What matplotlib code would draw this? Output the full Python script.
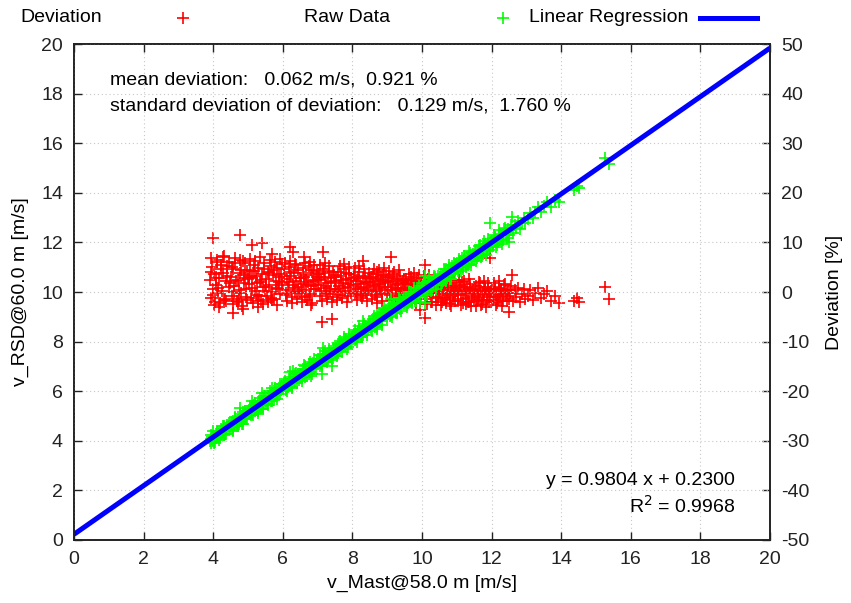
import numpy as np
import matplotlib
matplotlib.use("Agg")
import matplotlib.pyplot as plt
from matplotlib.lines import Line2D

plt.rcParams['font.family'] = ['Liberation Sans', 'DejaVu Sans']
plt.rcParams['axes.unicode_minus'] = False

# wind speed at the mast (m/s)
v_mast = [
    3.91, 3.94, 3.96, 3.99, 4.02, 4.05, 4.08, 4.11, 4.15, 4.18, 4.21, 4.25, 4.29, 4.33, 4.37, 4.41, 4.46,
    4.51, 4.54, 4.58, 4.61, 4.64, 4.68, 4.71, 4.74, 4.78, 4.81, 4.85, 4.88, 4.92, 4.95, 4.98,
    5.02, 5.05, 5.09, 5.12, 5.16, 5.19, 5.23, 5.26, 5.30, 5.33, 5.37, 5.40, 5.44, 5.47,
    5.51, 5.54, 5.58, 5.61, 5.65, 5.68, 5.72, 5.75, 5.79, 5.82, 5.86, 5.89, 5.93, 5.97,
    6.01, 6.04, 6.08, 6.11, 6.15, 6.18, 6.22, 6.25, 6.29, 6.32, 6.36, 6.39, 6.43, 6.47,
    6.51, 6.54, 6.58, 6.61, 6.65, 6.68, 6.72, 6.75, 6.79, 6.82, 6.86, 6.89, 6.93, 6.97,
    7.01, 7.04, 7.08, 7.11, 7.15, 7.18, 7.22, 7.25, 7.29, 7.32, 7.36, 7.39, 7.43, 7.47,
    7.51, 7.54, 7.58, 7.61, 7.65, 7.68, 7.72, 7.75, 7.79, 7.82, 7.86, 7.89, 7.93, 7.97,
    8.01, 8.04, 8.08, 8.11, 8.15, 8.18, 8.22, 8.25, 8.29, 8.32, 8.36, 8.39, 8.43, 8.47,
    8.51, 8.54, 8.58, 8.61, 8.65, 8.68, 8.72, 8.75, 8.79, 8.82, 8.86, 8.89, 8.93, 8.97,
    9.01, 9.04, 9.08, 9.11, 9.15, 9.18, 9.22, 9.25, 9.29, 9.32, 9.36, 9.39, 9.43, 9.47,
    9.51, 9.54, 9.58, 9.61, 9.65, 9.68, 9.72, 9.75, 9.79, 9.82, 9.86, 9.89, 9.93, 9.97,
    10.01, 10.04, 10.08, 10.11, 10.15, 10.18, 10.22, 10.25, 10.29, 10.32, 10.36, 10.39, 10.43, 10.47,
    10.51, 10.54, 10.58, 10.61, 10.65, 10.68, 10.72, 10.75, 10.79, 10.82, 10.86, 10.89, 10.93, 10.97,
    11.01, 11.04, 11.08, 11.11, 11.15, 11.18, 11.22, 11.25, 11.29, 11.32, 11.36, 11.39, 11.43, 11.47,
    11.51, 11.54, 11.58, 11.61, 11.65, 11.68, 11.72, 11.75, 11.79, 11.82, 11.86, 11.89, 11.93, 11.97,
    12.02, 12.05, 12.09, 12.12, 12.16, 12.20, 12.24, 12.28, 12.32, 12.36, 12.41, 12.45, 12.49,
    12.53, 12.57, 12.62, 12.66, 12.71, 12.76, 12.81, 12.86, 12.92, 12.97,
    13.04, 13.11, 13.18, 13.26, 13.34, 13.42, 13.51, 13.60, 13.70, 13.82, 13.95,
    14.38, 14.44, 14.50, 15.27, 15.38,
    3.98, 4.17, 4.57, 4.77, 4.86, 5.10, 5.40, 6.20, 6.30, 7.13, 7.16, 7.41, 9.10, 9.94,
    10.09, 10.10, 11.95, 12.50, 12.60,
    4.30, 5.70, 6.60, 8.30, 5.30, 6.80, 8.70,
    3.93, 4.00, 4.07, 4.14, 4.23, 4.31, 4.39, 4.48,
    4.53, 4.60, 4.66, 4.73, 4.80, 4.87, 4.93, 4.99,
    5.04, 5.11, 5.18, 5.25, 5.31, 5.38, 5.45, 5.49,
    5.53, 5.60, 5.67, 5.74, 5.81, 5.88, 5.94, 5.99,
    6.03, 6.10, 6.17, 6.24, 6.31, 6.38, 6.45, 6.49,
    6.53, 6.60, 6.67, 6.74, 6.81, 6.88, 6.95, 6.99,
    7.03, 7.10, 7.17, 7.24, 7.31, 7.38, 7.45, 7.49,
    7.53, 7.60, 7.67, 7.74, 7.81, 7.88, 7.95, 7.99,
    8.03, 8.10, 8.17, 8.24, 8.31, 8.38, 8.45, 8.49,
    8.53, 8.60, 8.67, 8.74, 8.81, 8.88, 8.95, 8.99,
    9.03, 9.10, 9.17, 9.24, 9.31, 9.38, 9.45, 9.49,
    9.53, 9.60, 9.67, 9.74, 9.81, 9.88, 9.95, 9.99,
    10.03, 10.10, 10.17, 10.24, 10.31, 10.38, 10.45, 10.49,
    10.53, 10.60, 10.67, 10.74, 10.81, 10.88, 10.95, 10.99,
    11.03, 11.10, 11.17, 11.24, 11.31, 11.38, 11.45, 11.49,
    11.53, 11.60, 11.67, 11.74, 11.81, 11.88, 11.95, 11.99,
    12.03, 12.10, 12.18, 12.26, 12.34, 12.43, 12.47,
    3.95, 4.03, 4.12, 4.20, 4.28, 4.36, 4.44,
    4.56, 4.63, 4.70, 4.76, 4.83, 4.90, 4.97,
    5.07, 5.14, 5.21, 5.28, 5.35, 5.42,
    5.56, 5.63, 5.70, 5.77, 5.84, 5.91,
    6.06, 6.13, 6.20, 6.27, 6.34, 6.41,
    6.56, 6.63, 6.70, 6.77, 6.84, 6.91,
    7.06, 7.13, 7.20, 7.27, 7.34, 7.41,
    7.56, 7.63, 7.70, 7.77, 7.84, 7.91,
    8.06, 8.13, 8.20, 8.27, 8.34, 8.41,
    8.56, 8.63, 8.70, 8.77, 8.84, 8.91,
    9.06, 9.13, 9.20, 9.27, 9.34, 9.41,
    9.56, 9.63, 9.70, 9.77, 9.84, 9.91,
    10.06, 10.13, 10.20, 10.27, 10.34, 10.41,
    10.56, 10.63, 10.70, 10.77, 10.84, 10.91,
    11.06, 11.13, 11.20, 11.27, 11.34, 11.41,
    11.56, 11.63, 11.70, 11.77, 11.84, 11.91,
    12.07, 12.14, 12.22, 12.30, 12.38,
]

# deviation RSD vs. mast (%)
deviation = [
    2.4, -1.2, 5.1, 0.7, 3.6, -2.0, 1.5, 6.1, -0.3, 2.9, 4.7, 0.2, 3.8, -1.4, 2.2, 5.3, 1.1,
    3.1, -0.8, 4.6, 1.3, 5.8, -1.9, 2.5, 0.4, 3.9, -0.2, 6.3, 1.8, 2.9, -1.0, 4.2,
    1.6, 4.4, -1.3, 2.8, 5.5, 0.3, 3.3, -0.6, 4.9, 2.0, -1.7, 3.7, 1.1, 5.9,
    2.6, -0.9, 4.1, 1.4, 5.2, 0.0, 3.4, -1.5, 2.2, 4.8, 0.8, 3.0, -0.4, 5.6,
    1.9, 4.6, -0.7, 2.7, 0.5, 5.0, 3.2, -1.1, 1.4, 3.9, 0.1, 2.3, 4.4, -0.3,
    2.8, 0.4, 4.9, 1.7, -1.0, 3.5, 2.1, 5.3, -0.5, 1.2, 3.8, 0.7, 2.5, 4.3,
    1.5, 3.6, -0.8, 2.4, 4.7, 0.9, 3.1, -0.2, 1.8, 4.2, 0.3, 2.9, -1.1, 3.4,
    2.2, 0.6, 4.0, 1.3, -0.6, 3.3, 1.9, 4.6, 0.2, 2.6, -0.9, 3.7, 1.0, 2.8,
    1.4, 3.5, -0.4, 2.3, 0.6, 4.1, 1.7, -0.9, 2.9, 0.9, 3.2, -0.2, 1.9, 3.8,
    2.0, 0.3, 3.7, 1.2, -0.7, 2.6, 4.0, 0.8, 1.6, 3.1, -0.5, 2.4, 1.0, 3.4,
    1.1, 3.0, -0.6, 2.2, 0.4, 3.6, 1.5, -1.0, 2.7, 0.7, 3.3, 0.0, 1.8, 2.5,
    0.8, 2.6, -1.1, 1.7, -0.2, 3.1, 0.5, 2.2, -1.4, 1.3, 2.9, -0.5, 1.0, 2.0,
    0.3, 2.1, -1.5, 1.2, -0.6, 2.7, 0.0, 1.6, -2.0, 0.9, 2.4, -1.0, 0.6, 1.8,
    -0.3, 1.6, -2.1, 0.8, -1.2, 2.2, -0.6, 1.1, -2.4, 0.4, 1.9, -1.5, 0.1, 1.3,
    0.2, -1.8, 1.5, -0.7, 2.0, -2.3, 0.6, -1.2, 1.1, -0.2, -2.0, 1.7, -0.9, 0.4,
    -0.4, 1.3, -1.9, 0.5, -1.0, 1.8, -2.4, 0.1, -0.7, 1.0, -1.6, 0.7, -2.1, -0.1,
    0.4, -1.7, 1.1, -0.6, -2.2, 0.9, -1.1, 0.2, -1.9, 1.4, -0.8, -0.2, -1.4,
    -0.3, 1.2, -1.8, 0.4, -1.1, 0.9, -2.0, -0.5, 0.6, -1.4,
    -0.8, 0.5, -1.6, -0.2, 0.8, -1.3, -0.4, 0.3, -1.9, -0.9, -2.2,
    -1.8, -1.2, -2.0, 1.0, -1.4,
    10.9, -3.0, -4.2, 11.5, -3.4, 9.5, 9.9, 9.1, 8.0, -6.0, 8.0, -5.4, 7.0, -3.6,
    5.4, -5.3, 6.9, -4.0, 3.4,
    7.2, 7.6, 7.0, 6.2, -3.1, -2.6, -2.3,
    4.0, -0.6, 2.9, 0.9, 5.5, -1.7, 3.2, 1.9,
    5.0, 0.1, 2.2, -1.4, 4.4, 3.4, 0.6, 2.7,
    3.0, 0.8, 4.3, 1.9, -0.9, 2.5, 4.7, 0.2,
    1.0, 3.8, -1.2, 4.5, 0.6, 2.0, 3.6, 1.5,
    3.3, -0.2, 2.0, 4.0, 0.9, 5.4, 1.1, 2.9,
    0.0, 3.1, 1.4, -0.8, 4.4, 2.2, 0.6, 3.0,
    2.7, 0.2, 3.9, 1.2, -0.4, 2.0, 4.1, 0.7,
    3.0, -0.1, 2.4, 0.9, 3.9, 1.6, -0.3, 2.5,
    2.6, 0.1, 3.0, 1.1, -0.6, 2.1, 0.4, 2.8,
    3.0, 1.5, -0.1, 2.2, 0.5, 3.5, 1.8, -0.3,
    2.0, -0.2, 2.9, 0.9, 1.6, -0.8, 2.3, 0.5,
    1.9, -0.3, 2.4, 0.2, 1.5, -0.9, 0.7, 2.3,
    1.4, -0.9, 0.8, 2.0, -0.3, 1.1, -1.3, 0.2,
    0.6, -1.6, 1.4, -0.2, -1.0, 0.9, -1.8, 0.3,
    -0.5, 1.0, -1.4, 0.3, -2.1, 0.8, -0.3, -1.6,
    0.6, -1.3, 0.2, -1.7, 0.9, -0.5, -1.1, 0.3,
    -0.9, 0.6, -1.5, 0.7, -0.4, -1.9, 0.5,
    6.8, -2.6, 6.4, -2.2, 7.0, -1.9, 6.1,
    -2.4, 6.9, -2.0, 6.5, -2.8, 5.9, -1.6,
    6.6, -2.3, 6.2, -1.8, 7.1, -2.5,
    -2.1, 6.4, -1.7, 6.0, -2.6, 6.7,
    5.9, -1.9, 6.3, -2.2, 5.6, -1.5,
    -2.0, 5.8, -1.6, 6.1, -2.3, 5.5,
    5.4, -1.8, 5.9, -1.4, 5.2, -2.1,
    -1.7, 5.3, -1.3, 5.6, -2.0, 5.0,
    4.9, -1.6, 5.2, -1.2, 4.6, -1.9,
    -1.5, 4.7, -1.1, 4.4, -1.8, 4.9,
    4.3, -1.6, 4.0, -1.3, 4.5, -1.9,
    -1.9, 3.7, -1.6, 3.9, -2.2, 3.4,
    3.2, -2.4, 3.5, -2.1, 2.9, -2.6,
    -2.6, 2.7, -2.3, 3.0, -2.8, 2.5,
    2.5, -2.7, 2.2, -2.5, 2.6, -2.9,
    -2.8, 2.1, -2.6, 2.3, -3.0, 1.9,
    1.9, -2.7, 2.2, -2.9, 1.7,
]

# regression shown in the chart
slope = 0.9804
intercept = 0.2300
r_squared = 0.9968
mean_dev = (0.062, 0.921)
std_dev = (0.129, 1.760)

v_mast = np.array(v_mast)
deviation = np.array(deviation)
v_rsd = v_mast * (1 + deviation / 100.0)

FS = 14
MS = 9
MEW = 1.2

fig = plt.figure(figsize=(8.51, 6.03), dpi=100)
ax = fig.add_axes([0.0870, 0.1045, 0.8178, 0.8225])
ax2 = ax.twinx()
ax.set_zorder(ax2.get_zorder() + 1)
ax.patch.set_visible(False)

ax2.plot(v_mast, deviation, '+', color='#ff0000', ms=MS, mew=MEW, ls='none')
ax.plot(v_mast, v_rsd, '+', color='#00ff00', ms=MS, mew=MEW, ls='none')
xl = np.array([0, 20])
ax.plot(xl, slope * xl + intercept, color='#0000ff', lw=3.6, solid_capstyle='butt')

ax.set_xlim(0, 20)
ax.set_ylim(0, 20)
ax2.set_ylim(-50, 50)
ax.set_xticks(np.arange(0, 21, 2))
ax.set_yticks(np.arange(0, 21, 2))
ax2.set_yticks(np.arange(-50, 51, 10))

ax.grid(True, color='#c8c8c8', lw=0.8, ls=(0, (1, 2.5)))
ax.tick_params(direction='in', length=6, width=1, top=True, right=False,
               labelsize=FS, pad=8, colors='#222222')
ax.tick_params(axis='x', pad=8)
ax2.tick_params(direction='in', length=6, width=1, labelsize=FS, pad=8, colors='#222222')
for a in (ax, ax2):
    for s in a.spines.values():
        s.set_linewidth(1.2)
        s.set_color('#222222')

ax.set_xlabel('v_Mast@58.0 m [m/s]', fontsize=FS, labelpad=5)
ax.set_ylabel('v_RSD@60.0 m [m/s]', fontsize=FS, labelpad=9)
ax2.set_ylabel('Deviation [%]', fontsize=FS, labelpad=12)

ax.text(1.03, 18.55, 'mean deviation:   %.3f m/s,  %.3f %%' % mean_dev,
        fontsize=FS, va='center')
ax.text(1.03, 17.5, 'standard deviation of deviation:   %.3f m/s,  %.3f %%' % std_dev,
        fontsize=FS, va='center')
ax.text(19.0, 2.22, 'y = %.4f x + %.4f' % (slope, intercept), fontsize=FS,
        ha='right', va='baseline')
ax.text(19.0, 1.09, 'R$^2$ = %.4f' % r_squared, fontsize=FS, ha='right', va='baseline')

# key along the top, gnuplot style
ky = 1 - 18 / 603
fig.text(20 / 851, ky, 'Deviation', fontsize=FS, va='center')
fig.add_artist(Line2D([183 / 851], [ky], marker='+', color='#ff0000', ms=MS, mew=MEW,
                      transform=fig.transFigure))
fig.text(390 / 851, ky, 'Raw Data', fontsize=FS, va='center', ha='right')
fig.add_artist(Line2D([503 / 851], [ky], marker='+', color='#00ff00', ms=MS, mew=MEW,
                      transform=fig.transFigure))
fig.text(688 / 851, ky, 'Linear Regression', fontsize=FS, va='center', ha='right')
fig.add_artist(Line2D([700 / 851, 757 / 851], [ky, ky], color='#0000ff', lw=3.6,
                      transform=fig.transFigure))

fig.savefig('out.png', dpi=100)
